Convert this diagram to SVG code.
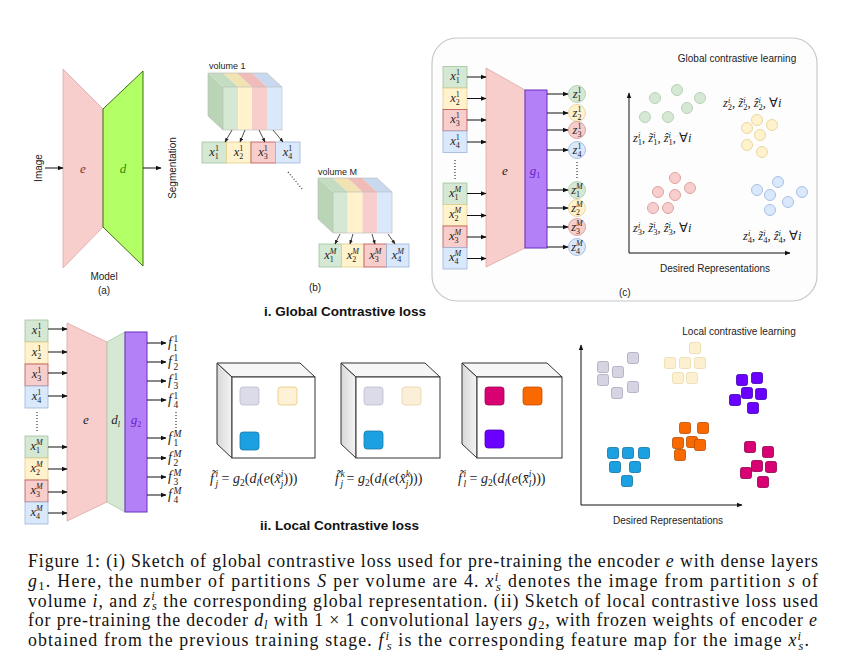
<svg xmlns="http://www.w3.org/2000/svg" width="841" height="669" viewBox="0 0 841 669">
<defs>
<style>
.t{font-family:"Liberation Sans",Arial,sans-serif;font-size:10px;fill:#222}
.bt{font-family:"Liberation Sans",Arial,sans-serif;font-size:13.5px;font-weight:bold;fill:#111}
.m{font-family:"Liberation Serif","Times New Roman",serif;font-style:italic;font-size:12.5px;fill:#222}
.p{font-size:8px}
.n{font-style:normal}
.f{font-size:14px}
.fp{font-size:9.5px}
.k{font-size:12.5px}
.kp{font-size:8.5px}
.cap{font-family:"Liberation Serif","Times New Roman",serif;font-size:17.8px;fill:#111}
.i{font-style:italic}
.q{font-size:12.5px}
.ar{stroke:#111;stroke-width:1;fill:none;marker-end:url(#ah)}
.as{stroke:#222;stroke-width:0.8;fill:none;marker-end:url(#ahs)}
.dot{stroke:#333;stroke-width:1.2;stroke-dasharray:1 2;fill:none}
.gr{fill:#d5e8d4;stroke:#9fc49c;stroke-width:0.8}
.ye{fill:#fff2cc;stroke:#e3cc8a;stroke-width:0.8}
.re{fill:#f8cecc;stroke:#b85450;stroke-width:0.8}
.bl{fill:#dae8fc;stroke:#9db4d8;stroke-width:0.8}
.enc{fill:#f8cecc;stroke:#dba8a6;stroke-width:0.8}
.pur{fill:#b380f7;stroke:#6a2fc0;stroke-width:1}
.cg{fill:#d5e8d4;stroke:#b9d1b7}
.cy{fill:#fff2cc;stroke:#ead89f}
.cr{fill:#f8cecc;stroke:#dca3a1}
.cb{fill:#dae8fc;stroke:#a9c0e4}
.sq{stroke-width:0.8}
.cube{stroke:#333;stroke-width:1}
</style>
<marker id="ah" viewBox="0 0 10 10" refX="9" refY="5" markerWidth="6" markerHeight="6" markerUnits="userSpaceOnUse" orient="auto"><path d="M0,1 L10,5 L0,9 z" fill="#111"/></marker>
<marker id="ahs" viewBox="0 0 10 10" refX="9" refY="5" markerWidth="4.5" markerHeight="4.5" markerUnits="userSpaceOnUse" orient="auto"><path d="M0,1 L10,5 L0,9 z" fill="#222"/></marker>
<linearGradient id="side" x1="0" y1="0" x2="1" y2="0"><stop offset="0" stop-color="#d8d8d8"/><stop offset="1" stop-color="#f4f4f4"/></linearGradient>
</defs>
<rect width="841" height="669" fill="#fff"/>

<!-- Panel (a) -->
<g id="panel-a">
<polygon class="enc" points="63,69 103,109 103,227 63,268"/>
<polygon points="103,109 143,71 143,266 103,227" fill="#b3ff66" stroke="#3f6e17" stroke-width="1"/>
<text class="m" x="83" y="173" text-anchor="middle" style="font-size:13px;fill:#7a2e2e">e</text>
<text class="m" x="123" y="173" text-anchor="middle" style="font-size:13px;fill:#2f8a00">d</text>
<text class="t" transform="translate(42,168) rotate(-90)" text-anchor="middle">Image</text>
<text class="t" transform="translate(176,168) rotate(-90)" text-anchor="middle">Segmentation</text>
<text class="t" x="104" y="280" text-anchor="middle">Model</text>
<text class="t" x="104" y="294" text-anchor="middle">(a)</text>
</g>

<!-- Panel (b) -->
<g id="volume-1">
<text class="t" x="209" y="69" style="font-size:9px">volume 1</text>
<polygon points="223,87 208,73 208,116 223,130" fill="#b9d5b6"/>
<polygon points="223,87 238,87 223,73 208,73" fill="#c4dcc2"/>
<polygon points="238,87 252,87 237,73 223,73" fill="#f2e3b3"/>
<polygon points="252,87 267,87 252,73 237,73" fill="#efbcba"/>
<polygon points="267,87 282,87 267,73 252,73" fill="#c8d8ee"/>
<rect x="223" y="87" width="15" height="43" fill="#d5e8d4"/>
<rect x="238" y="87" width="14" height="43" fill="#fff2cc"/>
<rect x="252" y="87" width="15" height="43" fill="#f8cecc"/>
<rect x="267" y="87" width="15" height="43" fill="#dae8fc"/>
<path d="M208,73 L267,73 L282,87 L282,130 L223,130 L208,116 Z M223,87 L282,87 M223,87 L223,130" fill="none" stroke="#bbb" stroke-width="0.6"/>
</g>
<g id="boxes-1">
<rect class="gr" x="202" y="142" width="24.5" height="21"/>
<rect class="ye" x="226.5" y="142" width="24.5" height="21"/>
<rect class="re" x="251" y="142" width="24.5" height="21"/>
<rect class="bl" x="275.5" y="142" width="24.5" height="21"/>
<text class="m" x="214" y="156" text-anchor="middle">x<tspan class="p n" dy="-5">1</tspan><tspan class="p n" dx="-4" dy="8">1</tspan></text>
<text class="m" x="238.5" y="156" text-anchor="middle">x<tspan class="p n" dy="-5">1</tspan><tspan class="p n" dx="-4" dy="8">2</tspan></text>
<text class="m" x="263" y="156" text-anchor="middle">x<tspan class="p n" dy="-5">1</tspan><tspan class="p n" dx="-4" dy="8">3</tspan></text>
<text class="m" x="287.5" y="156" text-anchor="middle">x<tspan class="p n" dy="-5">1</tspan><tspan class="p n" dx="-4" dy="8">4</tspan></text>
</g>
<g id="volume-M">
<text class="t" x="318" y="175" style="font-size:9px">volume M</text>
<polygon points="333,192 318,178 318,219 333,233" fill="#b9d5b6"/>
<polygon points="333,192 347.75,192 332.75,178 318,178" fill="#c4dcc2"/>
<polygon points="347.75,192 362.5,192 347.5,178 332.75,178" fill="#f2e3b3"/>
<polygon points="362.5,192 377.25,192 362.25,178 347.5,178" fill="#efbcba"/>
<polygon points="377.25,192 392,192 377,178 362.25,178" fill="#c8d8ee"/>
<rect x="333" y="192" width="14.75" height="41" fill="#d5e8d4"/>
<rect x="347.75" y="192" width="14.75" height="41" fill="#fff2cc"/>
<rect x="362.5" y="192" width="14.75" height="41" fill="#f8cecc"/>
<rect x="377.25" y="192" width="14.75" height="41" fill="#dae8fc"/>
<path d="M318,178 L377,178 L392,192 L392,233 L333,233 L318,219 Z M333,192 L392,192 M333,192 L333,233" fill="none" stroke="#bbb" stroke-width="0.6"/>
</g>
<g id="boxes-M">
<rect class="gr" x="319" y="244" width="22.5" height="23"/>
<rect class="ye" x="341.5" y="244" width="22.5" height="23"/>
<rect class="re" x="364" y="244" width="22.5" height="23"/>
<rect class="bl" x="386.5" y="244" width="22.5" height="23"/>
<text class="m" x="330.25" y="259" text-anchor="middle">x<tspan class="p" dy="-5">M</tspan><tspan class="p n" dx="-6.7" dy="8">1</tspan></text>
<text class="m" x="352.75" y="259" text-anchor="middle">x<tspan class="p" dy="-5">M</tspan><tspan class="p n" dx="-6.7" dy="8">2</tspan></text>
<text class="m" x="375.25" y="259" text-anchor="middle">x<tspan class="p" dy="-5">M</tspan><tspan class="p n" dx="-6.7" dy="8">3</tspan></text>
<text class="m" x="397.75" y="259" text-anchor="middle">x<tspan class="p" dy="-5">M</tspan><tspan class="p n" dx="-6.7" dy="8">4</tspan></text>
</g>
<g id="panel-b-labels">
<text class="t" x="315" y="291" text-anchor="middle">(b)</text>
<text class="bt" x="264" y="316">i. Global Contrastive loss</text>
</g>

<!-- Panel (c) -->
<g id="panel-c-frame">
<rect x="432" y="38" width="385" height="263" rx="25" fill="#fdfdfd" stroke="#c8c8c8" stroke-width="1.2"/>
</g>
<g id="panel-c-inputs">
<rect class="gr" x="443" y="66.5" width="24" height="21.5"/>
<rect class="ye" x="443" y="88" width="24" height="21.5"/>
<rect class="re" x="443" y="109.5" width="24" height="21.5"/>
<rect class="bl" x="443" y="131" width="24" height="21.5"/>
<rect class="gr" x="443" y="183" width="24" height="21.5"/>
<rect class="ye" x="443" y="204.5" width="24" height="21.5"/>
<rect class="re" x="443" y="226" width="24" height="21.5"/>
<rect class="bl" x="443" y="247.5" width="24" height="21.5"/>
<text class="m" x="455" y="80" text-anchor="middle">x<tspan class="p n" dy="-5">1</tspan><tspan class="p n" dx="-4" dy="8">1</tspan></text>
<text class="m" x="455" y="101.5" text-anchor="middle">x<tspan class="p n" dy="-5">1</tspan><tspan class="p n" dx="-4" dy="8">2</tspan></text>
<text class="m" x="455" y="123" text-anchor="middle">x<tspan class="p n" dy="-5">1</tspan><tspan class="p n" dx="-4" dy="8">3</tspan></text>
<text class="m" x="455" y="144.5" text-anchor="middle">x<tspan class="p n" dy="-5">1</tspan><tspan class="p n" dx="-4" dy="8">4</tspan></text>
<text class="m" x="455" y="196.5" text-anchor="middle">x<tspan class="p" dy="-5">M</tspan><tspan class="p n" dx="-6.7" dy="8">1</tspan></text>
<text class="m" x="455" y="218" text-anchor="middle">x<tspan class="p" dy="-5">M</tspan><tspan class="p n" dx="-6.7" dy="8">2</tspan></text>
<text class="m" x="455" y="239.5" text-anchor="middle">x<tspan class="p" dy="-5">M</tspan><tspan class="p n" dx="-6.7" dy="8">3</tspan></text>
<text class="m" x="455" y="261" text-anchor="middle">x<tspan class="p" dy="-5">M</tspan><tspan class="p n" dx="-6.7" dy="8">4</tspan></text>
</g>
<g id="encoder-c">
<polygon class="enc" points="486,68 525,90 525,248 486,267"/>
<text class="m" x="505" y="175" text-anchor="middle" style="font-size:13px">e</text>
</g>
<g id="g1">
<rect class="pur" x="525" y="90" width="22" height="158"/>
<text class="m" x="535" y="175" text-anchor="middle" style="font-size:13px;fill:#6a1fc9">g<tspan class="p n" dy="2.5">1</tspan></text>
</g>
<g id="panel-c-outputs">
<circle class="cg" cx="577" cy="94" r="8.5"/>
<circle class="cy" cx="577" cy="113" r="8.5"/>
<circle class="cr" cx="577" cy="130" r="8.5"/>
<circle class="cb" cx="577" cy="150" r="8.5"/>
<circle class="cg" cx="577" cy="190" r="8.5"/>
<circle class="cy" cx="577" cy="208" r="8.5"/>
<circle class="cr" cx="577" cy="227" r="8.5"/>
<circle class="cb" cx="577" cy="247" r="8.5"/>
<text class="m" x="577" y="97.5" text-anchor="middle">z<tspan class="p n" dy="-5">1</tspan><tspan class="p n" dx="-4" dy="8">1</tspan></text>
<text class="m" x="577" y="116.5" text-anchor="middle">z<tspan class="p n" dy="-5">1</tspan><tspan class="p n" dx="-4" dy="8">2</tspan></text>
<text class="m" x="577" y="133.5" text-anchor="middle">z<tspan class="p n" dy="-5">1</tspan><tspan class="p n" dx="-4" dy="8">3</tspan></text>
<text class="m" x="577" y="153.5" text-anchor="middle">z<tspan class="p n" dy="-5">1</tspan><tspan class="p n" dx="-4" dy="8">4</tspan></text>
<text class="m" x="577" y="193.5" text-anchor="middle">z<tspan class="p" dy="-5">M</tspan><tspan class="p n" dx="-6.7" dy="8">1</tspan></text>
<text class="m" x="577" y="211.5" text-anchor="middle">z<tspan class="p" dy="-5">M</tspan><tspan class="p n" dx="-6.7" dy="8">2</tspan></text>
<text class="m" x="577" y="230.5" text-anchor="middle">z<tspan class="p" dy="-5">M</tspan><tspan class="p n" dx="-6.7" dy="8">3</tspan></text>
<text class="m" x="577" y="250.5" text-anchor="middle">z<tspan class="p" dy="-5">M</tspan><tspan class="p n" dx="-6.7" dy="8">4</tspan></text>
</g>
<g id="global-space">
<text class="t" x="737" y="62" text-anchor="middle">Global contrastive learning</text>
<text class="t" x="715" y="272" text-anchor="middle">Desired Representations</text>
<text class="t" x="619" y="296">(c)</text>
<circle class="cg" cx="655" cy="98" r="5.5"/><circle class="cg" cx="677" cy="90" r="5.5"/><circle class="cg" cx="700" cy="98" r="5.5"/>
<circle class="cg" cx="687" cy="108" r="5.5"/><circle class="cg" cx="645" cy="117" r="5.5"/><circle class="cg" cx="668" cy="117" r="5.5"/>
<circle class="cy" cx="757" cy="120" r="5.5"/><circle class="cy" cx="772" cy="125" r="5.5"/><circle class="cy" cx="747" cy="128" r="5.5"/>
<circle class="cy" cx="760" cy="135" r="5.5"/><circle class="cy" cx="747" cy="145" r="5.5"/><circle class="cy" cx="762" cy="152" r="5.5"/>
<circle class="cr" cx="675" cy="178" r="5.5"/><circle class="cr" cx="658" cy="192" r="5.5"/><circle class="cr" cx="675" cy="195" r="5.5"/>
<circle class="cr" cx="690" cy="188" r="5.5"/><circle class="cr" cx="653" cy="208" r="5.5"/><circle class="cr" cx="668" cy="208" r="5.5"/>
<circle class="cb" cx="757" cy="190" r="5.5"/><circle class="cb" cx="778" cy="182" r="5.5"/><circle class="cb" cx="770" cy="195" r="5.5"/>
<circle class="cb" cx="802" cy="192" r="5.5"/><circle class="cb" cx="788" cy="202" r="5.5"/><circle class="cb" cx="770" cy="210" r="5.5"/>
<text class="m k" x="633" y="142">z<tspan class="kp" dy="-4.5">i</tspan><tspan class="kp n" dx="-2.4" dy="7.5">1</tspan><tspan class="n" dy="-3">,  </tspan>z̃<tspan class="kp" dy="-4.5">i</tspan><tspan class="kp n" dx="-2.4" dy="7.5">1</tspan><tspan class="n" dy="-3">,  </tspan>ẑ<tspan class="kp" dy="-4.5">i</tspan><tspan class="kp n" dx="-2.4" dy="7.5">1</tspan><tspan class="n" dy="-3">,  ∀</tspan>i</text>
<text class="m k" x="723" y="107">z<tspan class="kp" dy="-4.5">i</tspan><tspan class="kp n" dx="-2.4" dy="7.5">2</tspan><tspan class="n" dy="-3">,  </tspan>z̃<tspan class="kp" dy="-4.5">i</tspan><tspan class="kp n" dx="-2.4" dy="7.5">2</tspan><tspan class="n" dy="-3">,  </tspan>ẑ<tspan class="kp" dy="-4.5">i</tspan><tspan class="kp n" dx="-2.4" dy="7.5">2</tspan><tspan class="n" dy="-3">,  ∀</tspan>i</text>
<text class="m k" x="633" y="232">z<tspan class="kp" dy="-4.5">i</tspan><tspan class="kp n" dx="-2.4" dy="7.5">3</tspan><tspan class="n" dy="-3">,  </tspan>z̃<tspan class="kp" dy="-4.5">i</tspan><tspan class="kp n" dx="-2.4" dy="7.5">3</tspan><tspan class="n" dy="-3">,  </tspan>ẑ<tspan class="kp" dy="-4.5">i</tspan><tspan class="kp n" dx="-2.4" dy="7.5">3</tspan><tspan class="n" dy="-3">,  ∀</tspan>i</text>
<text class="m k" x="743" y="240">z<tspan class="kp" dy="-4.5">i</tspan><tspan class="kp n" dx="-2.4" dy="7.5">4</tspan><tspan class="n" dy="-3">,  </tspan>z̃<tspan class="kp" dy="-4.5">i</tspan><tspan class="kp n" dx="-2.4" dy="7.5">4</tspan><tspan class="n" dy="-3">,  </tspan>ẑ<tspan class="kp" dy="-4.5">i</tspan><tspan class="kp n" dx="-2.4" dy="7.5">4</tspan><tspan class="n" dy="-3">,  ∀</tspan>i</text>
</g>

<!-- Bottom: local -->
<g id="local-inputs">
<rect class="gr" x="25" y="320" width="23" height="22"/>
<rect class="ye" x="25" y="342" width="23" height="22"/>
<rect class="re" x="25" y="364" width="23" height="22"/>
<rect class="bl" x="25" y="386" width="23" height="22"/>
<rect class="gr" x="25" y="436" width="23" height="22"/>
<rect class="ye" x="25" y="458" width="23" height="22"/>
<rect class="re" x="25" y="480" width="23" height="22"/>
<rect class="bl" x="25" y="502" width="23" height="22"/>
<text class="m" x="36.5" y="334" text-anchor="middle">x<tspan class="p n" dy="-5">1</tspan><tspan class="p n" dx="-4" dy="8">1</tspan></text>
<text class="m" x="36.5" y="356" text-anchor="middle">x<tspan class="p n" dy="-5">1</tspan><tspan class="p n" dx="-4" dy="8">2</tspan></text>
<text class="m" x="36.5" y="378" text-anchor="middle">x<tspan class="p n" dy="-5">1</tspan><tspan class="p n" dx="-4" dy="8">3</tspan></text>
<text class="m" x="36.5" y="400" text-anchor="middle">x<tspan class="p n" dy="-5">1</tspan><tspan class="p n" dx="-4" dy="8">4</tspan></text>
<text class="m" x="36.5" y="450" text-anchor="middle">x<tspan class="p" dy="-5">M</tspan><tspan class="p n" dx="-6.7" dy="8">1</tspan></text>
<text class="m" x="36.5" y="472" text-anchor="middle">x<tspan class="p" dy="-5">M</tspan><tspan class="p n" dx="-6.7" dy="8">2</tspan></text>
<text class="m" x="36.5" y="494" text-anchor="middle">x<tspan class="p" dy="-5">M</tspan><tspan class="p n" dx="-6.7" dy="8">3</tspan></text>
<text class="m" x="36.5" y="516" text-anchor="middle">x<tspan class="p" dy="-5">M</tspan><tspan class="p n" dx="-6.7" dy="8">4</tspan></text>
</g>
<g id="encoder-local">
<polygon class="enc" points="67,323 107,342 107,502 67,521"/>
<text class="m" x="86" y="424" text-anchor="middle" style="font-size:13px">e</text>
</g>
<g id="decoder-dl">
<polygon points="107,342 125,332 125,512 107,502" fill="#d5e8d4" stroke="#a8c8a5" stroke-width="0.8"/>
<text class="m" x="115.5" y="424" text-anchor="middle" style="font-size:13px">d<tspan class="p" dy="2.5">l</tspan></text>
</g>
<g id="g2">
<rect class="pur" x="125" y="332" width="22" height="180"/>
<text class="m" x="136" y="424" text-anchor="middle" style="font-size:13px;fill:#6a1fc9">g<tspan class="p n" dy="2.5">2</tspan></text>
</g>
<g id="local-outputs">
<text class="m f" x="168" y="347">f<tspan class="fp n" dx="1.5" dy="-5.5">1</tspan><tspan class="fp n" dx="-4.7" dy="9">1</tspan></text>
<text class="m f" x="168" y="366">f<tspan class="fp n" dx="1.5" dy="-5.5">1</tspan><tspan class="fp n" dx="-4.7" dy="9">2</tspan></text>
<text class="m f" x="168" y="385">f<tspan class="fp n" dx="1.5" dy="-5.5">1</tspan><tspan class="fp n" dx="-4.7" dy="9">3</tspan></text>
<text class="m f" x="168" y="404">f<tspan class="fp n" dx="1.5" dy="-5.5">1</tspan><tspan class="fp n" dx="-4.7" dy="9">4</tspan></text>
<text class="m f" x="168" y="442">f<tspan class="fp" dx="1.5" dy="-5.5">M</tspan><tspan class="fp n" dx="-7.9" dy="9">1</tspan></text>
<text class="m f" x="168" y="462">f<tspan class="fp" dx="1.5" dy="-5.5">M</tspan><tspan class="fp n" dx="-7.9" dy="9">2</tspan></text>
<text class="m f" x="168" y="481">f<tspan class="fp" dx="1.5" dy="-5.5">M</tspan><tspan class="fp n" dx="-7.9" dy="9">3</tspan></text>
<text class="m f" x="168" y="499">f<tspan class="fp" dx="1.5" dy="-5.5">M</tspan><tspan class="fp n" dx="-7.9" dy="9">4</tspan></text>
</g>
<g id="cube-1">
<polygon class="cube" points="232,377 217,363 217,444 232,458" fill="url(#side)"/>
<polygon class="cube" points="232,377 315,377 300,363 217,363" fill="#f6f6f6"/>
<rect class="cube" x="232" y="377" width="83" height="81" fill="#fff"/>
<rect class="sq" x="240" y="387" width="19" height="18" rx="3" fill="#dcdbe8" stroke="#bdbbcf"/>
<rect class="sq" x="278" y="387" width="19" height="18" rx="3" fill="#fdf1d6" stroke="#e9c96f"/>
<rect class="sq" x="240" y="432" width="19" height="18" rx="3" fill="#1ba1e2" stroke="#1678a8"/>
</g>
<g id="cube-2">
<polygon class="cube" points="356,377 341,363 341,444 356,458" fill="url(#side)"/>
<polygon class="cube" points="356,377 440,377 425,363 341,363" fill="#f6f6f6"/>
<rect class="cube" x="356" y="377" width="84" height="81" fill="#fff"/>
<rect class="sq" x="364" y="387" width="19" height="18" rx="3" fill="#dcdbe8" stroke="#bdbbcf"/>
<rect class="sq" x="402" y="387" width="19" height="18" rx="3" fill="#fbefd8" stroke="#e6d3a8"/>
<rect class="sq" x="364" y="431" width="19" height="18" rx="3" fill="#1ba1e2" stroke="#1678a8"/>
</g>
<g id="cube-3">
<polygon class="cube" points="477,377 462,363 462,444 477,458" fill="url(#side)"/>
<polygon class="cube" points="477,377 562,377 547,363 462,363" fill="#f6f6f6"/>
<rect class="cube" x="477" y="377" width="85" height="81" fill="#fff"/>
<rect class="sq" x="485" y="387" width="19" height="18" rx="3" fill="#d80073" stroke="#a50050"/>
<rect class="sq" x="523" y="387" width="19" height="18" rx="3" fill="#fa6800" stroke="#c85200"/>
<rect class="sq" x="485" y="430" width="19" height="18" rx="3" fill="#6a00ff" stroke="#4a00b8"/>
</g>
<g id="formulas">
<text class="m f" x="210" y="483">f̃<tspan class="fp" dx="1.5" dy="-6">i</tspan><tspan class="fp" dx="-2.6" dy="9.5">j</tspan><tspan class="n" dy="-3.5"> = </tspan>g<tspan class="fp n" dy="3">2</tspan><tspan class="n" dy="-3">(</tspan>d<tspan class="fp" dy="3">l</tspan><tspan class="n" dy="-3">(</tspan>e<tspan class="n">(</tspan>x̃<tspan class="fp" dy="-6">i</tspan><tspan class="fp" dx="-2.6" dy="9.5">j</tspan><tspan class="n" dy="-3.5">)))</tspan></text>
<text class="m f" x="335" y="483">f̃<tspan class="fp" dx="1.5" dy="-6">k</tspan><tspan class="fp" dx="-4.2" dy="9.5">j</tspan><tspan class="n" dy="-3.5"> = </tspan>g<tspan class="fp n" dy="3">2</tspan><tspan class="n" dy="-3">(</tspan>d<tspan class="fp" dy="3">l</tspan><tspan class="n" dy="-3">(</tspan>e<tspan class="n">(</tspan>x̂<tspan class="fp" dy="-6">k</tspan><tspan class="fp" dx="-4.2" dy="9.5">j</tspan><tspan class="n" dy="-3.5">)))</tspan></text>
<text class="m f" x="458" y="483">f̃<tspan class="fp" dx="1.5" dy="-6">i</tspan><tspan class="fp" dx="-2.6" dy="9.5">l</tspan><tspan class="n" dy="-3.5"> = </tspan>g<tspan class="fp n" dy="3">2</tspan><tspan class="n" dy="-3">(</tspan>d<tspan class="fp" dy="3">l</tspan><tspan class="n" dy="-3">(</tspan>e<tspan class="n">(</tspan>x̄<tspan class="fp" dy="-6">i</tspan><tspan class="fp" dx="-2.6" dy="9.5">l</tspan><tspan class="n" dy="-3.5">)))</tspan></text>
<text class="bt" x="260" y="530">ii. Local Contrastive loss</text>
</g>
<g id="local-space">
<text class="t" x="739" y="335" text-anchor="middle">Local contrastive learning</text>
<text class="t" x="668" y="524" text-anchor="middle">Desired Representations</text>
<g class="sq" fill="#d6d4e3" stroke="#a9a6bb">
<rect x="597.5" y="361.5" width="11" height="11" rx="2"/><rect x="627.5" y="352.5" width="11" height="11" rx="2"/><rect x="612.5" y="366.5" width="11" height="11" rx="2"/>
<rect x="597.5" y="374.5" width="11" height="11" rx="2"/><rect x="627.5" y="381.5" width="11" height="11" rx="2"/><rect x="611.5" y="387.5" width="11" height="11" rx="2"/>
</g>
<g class="sq" fill="#fcf0d0" stroke="#eadaa8">
<rect x="689.5" y="342.5" width="11" height="11" rx="2"/><rect x="664.5" y="357.5" width="11" height="11" rx="2"/><rect x="679.5" y="357.5" width="11" height="11" rx="2"/>
<rect x="694.5" y="357.5" width="11" height="11" rx="2"/><rect x="672.5" y="372.5" width="11" height="11" rx="2"/><rect x="686.5" y="372.5" width="11" height="11" rx="2"/>
</g>
<g class="sq" fill="#6a00ff" stroke="#3d00b0">
<rect x="736.5" y="374.5" width="11" height="11" rx="2"/><rect x="751.5" y="372.5" width="11" height="11" rx="2"/><rect x="741.5" y="387.5" width="11" height="11" rx="2"/>
<rect x="755.5" y="388.5" width="11" height="11" rx="2"/><rect x="729.5" y="394.5" width="11" height="11" rx="2"/><rect x="747.5" y="402.5" width="11" height="11" rx="2"/>
</g>
<g class="sq" fill="#fa6800" stroke="#b84c00">
<rect x="679.5" y="422.5" width="11" height="11" rx="2"/><rect x="697.5" y="422.5" width="11" height="11" rx="2"/><rect x="672.5" y="437.5" width="11" height="11" rx="2"/>
<rect x="686.5" y="436.5" width="11" height="11" rx="2"/><rect x="694.5" y="439.5" width="11" height="11" rx="2"/><rect x="674.5" y="449.5" width="11" height="11" rx="2"/>
</g>
<g class="sq" fill="#1ba1e2" stroke="#10739e">
<rect x="607.5" y="447.5" width="11" height="11" rx="2"/><rect x="622.5" y="447.5" width="11" height="11" rx="2"/><rect x="638.5" y="447.5" width="11" height="11" rx="2"/>
<rect x="609.5" y="461.5" width="11" height="11" rx="2"/><rect x="629.5" y="461.5" width="11" height="11" rx="2"/><rect x="621.5" y="475.5" width="11" height="11" rx="2"/>
</g>
<g class="sq" fill="#d80073" stroke="#8c004a">
<rect x="744.5" y="441.5" width="11" height="11" rx="2"/><rect x="762.5" y="446.5" width="11" height="11" rx="2"/><rect x="751.5" y="460.5" width="11" height="11" rx="2"/>
<rect x="765.5" y="461.5" width="11" height="11" rx="2"/><rect x="740.5" y="467.5" width="11" height="11" rx="2"/><rect x="757.5" y="476.5" width="11" height="11" rx="2"/>
</g>
</g>

<g id="connectors">
<line class="ar" x1="45" y1="168" x2="63" y2="168"/>
<line class="ar" x1="143" y1="168" x2="161" y2="168"/>
<line class="as" x1="232" y1="130" x2="225" y2="142"/>
<line class="as" x1="245" y1="130" x2="240" y2="142"/>
<line class="as" x1="259" y1="130" x2="265" y2="142"/>
<line class="as" x1="273" y1="130" x2="283" y2="142"/>
<line class="dot" x1="288" y1="172" x2="303" y2="190"/>
<line class="as" x1="340" y1="234" x2="335" y2="244"/>
<line class="as" x1="353" y1="234" x2="350" y2="244"/>
<line class="as" x1="372" y1="234" x2="375" y2="244"/>
<line class="as" x1="388" y1="234" x2="395" y2="244"/>
<line class="ar" x1="467" y1="77" x2="486" y2="77"/>
<line class="ar" x1="467" y1="98.5" x2="486" y2="98.5"/>
<line class="ar" x1="467" y1="120" x2="486" y2="120"/>
<line class="ar" x1="467" y1="142" x2="486" y2="142"/>
<line class="ar" x1="467" y1="193.5" x2="486" y2="193.5"/>
<line class="ar" x1="467" y1="215.5" x2="486" y2="215.5"/>
<line class="ar" x1="467" y1="237" x2="486" y2="237"/>
<line class="ar" x1="467" y1="258.5" x2="486" y2="258.5"/>
<line class="dot" x1="455" y1="160" x2="455" y2="180"/>
<line class="ar" x1="547" y1="94" x2="568" y2="94"/>
<line class="ar" x1="547" y1="113" x2="568" y2="113"/>
<line class="ar" x1="547" y1="130" x2="568" y2="130"/>
<line class="ar" x1="547" y1="150" x2="568" y2="150"/>
<line class="ar" x1="547" y1="190" x2="568" y2="190"/>
<line class="ar" x1="547" y1="208" x2="568" y2="208"/>
<line class="ar" x1="547" y1="227" x2="568" y2="227"/>
<line class="ar" x1="547" y1="247" x2="568" y2="247"/>
<line class="dot" x1="577" y1="162" x2="577" y2="179"/>
<polyline class="ar" points="629,253 629,93"/>
<polyline class="ar" points="629,253 790,253"/>
<line class="ar" x1="48" y1="329" x2="67" y2="329"/>
<line class="ar" x1="48" y1="352" x2="67" y2="352"/>
<line class="ar" x1="48" y1="373" x2="67" y2="373"/>
<line class="ar" x1="48" y1="396" x2="67" y2="396"/>
<line class="ar" x1="48" y1="447" x2="67" y2="447"/>
<line class="ar" x1="48" y1="469" x2="67" y2="469"/>
<line class="ar" x1="48" y1="492" x2="67" y2="492"/>
<line class="ar" x1="48" y1="513" x2="67" y2="513"/>
<line class="dot" x1="37" y1="412" x2="37" y2="431"/>
<line class="ar" x1="147" y1="343" x2="166" y2="343"/>
<line class="ar" x1="147" y1="362" x2="166" y2="362"/>
<line class="ar" x1="147" y1="381" x2="166" y2="381"/>
<line class="ar" x1="147" y1="400" x2="166" y2="400"/>
<line class="ar" x1="147" y1="438" x2="166" y2="438"/>
<line class="ar" x1="147" y1="458" x2="166" y2="458"/>
<line class="ar" x1="147" y1="477" x2="166" y2="477"/>
<line class="ar" x1="147" y1="495" x2="166" y2="495"/>
<line class="dot" x1="176" y1="412" x2="176" y2="433"/>
<polyline class="ar" points="581,505 581,345"/>
<polyline class="ar" points="581,505 742,505"/>
</g>

<g id="caption">
<text class="cap" x="28" y="567" textLength="790" lengthAdjust="spacing">Figure 1: (i) Sketch of global contrastive loss used for pre-training the encoder <tspan class="i">e</tspan> with dense layers</text>
<text class="cap" x="28" y="587" textLength="790" lengthAdjust="spacing"><tspan class="i">g</tspan><tspan class="q" dy="3">1</tspan><tspan dy="-3">. Here, the number of partitions </tspan><tspan class="i">S</tspan> per volume are 4. <tspan class="i">x</tspan><tspan class="q i" dy="-6.5">i</tspan><tspan class="q i" dx="-3.5" dy="10">s</tspan><tspan dy="-3.5"> denotes the image from partition </tspan><tspan class="i">s</tspan> of</text>
<text class="cap" x="28" y="606.5" textLength="790" lengthAdjust="spacing">volume <tspan class="i">i</tspan>, and <tspan class="i">z</tspan><tspan class="q i" dy="-6.5">i</tspan><tspan class="q i" dx="-3.5" dy="10">s</tspan><tspan dy="-3.5"> the corresponding global representation. (ii) Sketch of local contrastive loss used</tspan></text>
<text class="cap" x="28" y="626" textLength="789" lengthAdjust="spacing">for pre-training the decoder <tspan class="i">d</tspan><tspan class="q i" dy="3">l</tspan><tspan dy="-3"> with 1 × 1 convolutional layers </tspan><tspan class="i">g</tspan><tspan class="q" dy="3">2</tspan><tspan dy="-3">, with frozen weights of encoder </tspan><tspan class="i">e</tspan></text>
<text class="cap" x="28" y="646" textLength="781" lengthAdjust="spacing">obtained from the previous training stage. <tspan class="i">f</tspan><tspan class="q i" dx="1" dy="-6.5">i</tspan><tspan class="q i" dx="-3.5" dy="10">s</tspan><tspan dy="-3.5"> is the corresponding feature map for the image </tspan><tspan class="i">x</tspan><tspan class="q i" dy="-6.5">i</tspan><tspan class="q i" dx="-3.5" dy="10">s</tspan><tspan dy="-3.5">.</tspan></text>
</g>
</svg>
